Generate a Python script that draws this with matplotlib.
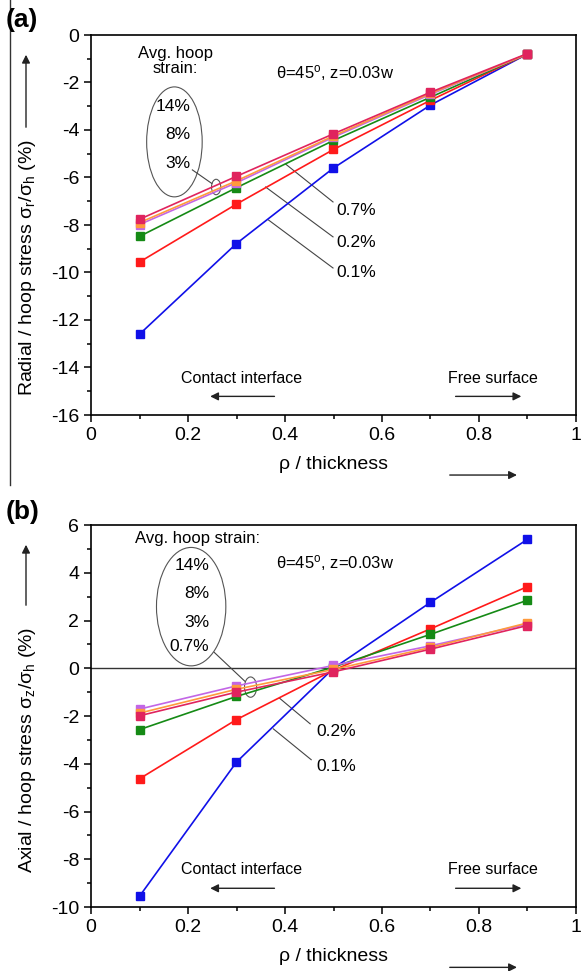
import matplotlib.pyplot as plt
from matplotlib.patches import Ellipse
from matplotlib.lines import Line2D
from matplotlib.ticker import MultipleLocator

plt.rcParams['font.family'] = ['Liberation Sans', 'DejaVu Sans']
plt.rcParams['mathtext.fontset'] = 'custom'
plt.rcParams['mathtext.rm'] = 'Liberation Sans'
plt.rcParams['mathtext.it'] = 'Liberation Sans'
plt.rcParams['axes.unicode_minus'] = False

# rho / thickness positions
rho = [0.1, 0.3, 0.5, 0.7, 0.9]
strains = ['0.1%', '0.2%', '0.7%', '3%', '8%', '14%']
colors = ['#1010e8', '#ff1a1a', '#158a15', '#c266e6', '#ff9a3c', '#e0245e']

# (a) radial / hoop stress
radial = {
    '0.1%': [-12.6, -8.78, -5.6, -2.95, -0.8],
    '0.2%': [-9.56, -7.12, -4.82, -2.75, -0.8],
    '0.7%': [-8.48, -6.43, -4.44, -2.62, -0.8],
    '3%':   [-7.98, -6.22, -4.3, -2.5, -0.8],
    '8%':   [-7.9, -6.14, -4.25, -2.46, -0.8],
    '14%':  [-7.76, -5.95, -4.16, -2.41, -0.78],
}

# (b) axial / hoop stress
axial = {
    '0.1%': [-9.55, -3.93, 0.0, 2.76, 5.4],
    '0.2%': [-4.63, -2.15, -0.08, 1.65, 3.42],
    '0.7%': [-2.57, -1.18, 0.05, 1.42, 2.85],
    '3%':   [-1.71, -0.74, 0.12, 0.94, 1.85],
    '8%':   [-1.88, -0.88, -0.05, 0.87, 1.9],
    '14%':  [-1.99, -1.0, -0.15, 0.8, 1.79],
}

W, H = 583, 971
fig = plt.figure(figsize=(W / 100, H / 100), dpi=100)


def fpx(x, y):
    # figure pixels (from top-left) -> figure fraction
    return x / W, 1 - y / H


ax1 = fig.add_axes([91 / W, 1 - 415 / H, 485 / W, 380 / H])
ax2 = fig.add_axes([91 / W, 1 - 907 / H, 485 / W, 382 / H])

leader = dict(color='#444444', lw=0.8)
arrow = dict(arrowstyle='-|>', color='#222222', lw=1.0, mutation_scale=12)


def setup(ax, data, ylo, yhi):
    for s, c in zip(strains, colors):
        ax.plot(rho, data[s], color=c, lw=1.2, marker='s', ms=5.5,
                mec=c, mfc=c, zorder=3)
    ax.set_xlim(0, 1)
    ax.set_ylim(ylo, yhi)
    ax.xaxis.set_major_locator(MultipleLocator(0.2))
    ax.xaxis.set_minor_locator(MultipleLocator(0.1))
    ax.yaxis.set_major_locator(MultipleLocator(2))
    ax.yaxis.set_minor_locator(MultipleLocator(1))
    ax.tick_params(which='both', direction='out', labelsize=14, width=1.1,
                   top=False, right=False)
    ax.tick_params(which='major', length=5)
    ax.tick_params(which='minor', length=3)
    ax.xaxis.set_major_formatter(lambda v, p: f'{v:g}')
    for sp in ax.spines.values():
        sp.set_linewidth(1.2)
    ax.set_xlabel('ρ / thickness', fontsize=14, labelpad=9)
    ax.annotate('', xy=(0.884, -0.158), xytext=(0.734, -0.158),
                xycoords='axes fraction', arrowprops=arrow, annotation_clip=False)
    # contact / free surface
    ax.text(0.31, 0.097, 'Contact interface', transform=ax.transAxes,
            fontsize=11.5, ha='center', va='center')
    ax.annotate('', xy=(0.24, 0.049), xytext=(0.384, 0.049),
                xycoords='axes fraction', arrowprops=arrow)
    ax.text(0.828, 0.097, 'Free surface', transform=ax.transAxes,
            fontsize=11.5, ha='center', va='center')
    ax.annotate('', xy=(0.893, 0.049), xytext=(0.746, 0.049),
                xycoords='axes fraction', arrowprops=arrow)
    ax.text(0.503, 0.9, r'$\theta$=45$^{\rm o}$, z=0.03w', transform=ax.transAxes,
            fontsize=12, ha='center', va='center')


# ---- panel (a)
setup(ax1, radial, -16, 0)
ax1.text(0.174, -1.09, 'Avg. hoop\nstrain:', fontsize=12, ha='center',
         va='center', linespacing=1.05)
ax1.add_patch(Ellipse((0.172, -4.5), 0.1145, 4.63, fill=False, ec='#555555', lw=0.8))
for lab, yy in [('14%', -3.03), ('8%', -4.17), ('3%', -5.43)]:
    ax1.text(0.205, yy, lab, fontsize=12.5, ha='right', va='center')
ax1.add_patch(Ellipse((0.258, -6.4), 0.019, 0.65, fill=False, ec='#555555', lw=0.8))
ax1.plot([0.209, 0.249], [-5.68, -6.25], **leader)
for lab, yy, p0, p1 in [('0.7%', -7.37, (0.401, -5.43), (0.499, -7.03)),
                        ('0.2%', -8.72, (0.36, -6.4), (0.499, -8.5)),
                        ('0.1%', -9.98, (0.366, -7.79), (0.499, -9.81))]:
    ax1.plot([p0[0], p1[0]], [p0[1], p1[1]], **leader)
    ax1.text(0.505, yy, lab, fontsize=12.5, ha='left', va='center')

# ---- panel (b)
setup(ax2, axial, -10, 6)
ax2.axhline(0, color='#333333', lw=1.0, zorder=1)
ax2.text(0.219, 5.42, 'Avg. hoop strain:', fontsize=12, ha='center', va='center')
ax2.add_patch(Ellipse((0.2065, 2.58), 0.143, 4.96, fill=False, ec='#555555', lw=0.8))
for lab, yy in [('14%', 4.29), ('8%', 3.125), ('3%', 1.92), ('0.7%', 0.92)]:
    ax2.text(0.244, yy, lab, fontsize=12.5, ha='right', va='center')
ax2.add_patch(Ellipse((0.329, -0.79), 0.025, 0.85, fill=False, ec='#555555', lw=0.8))
ax2.plot([0.254, 0.317], [0.667, -0.54], **leader)
for lab, yy, p0, p1 in [('0.2%', -2.67, (0.3885, -1.25), (0.452, -2.33)),
                        ('0.1%', -4.125, (0.376, -2.54), (0.454, -3.83))]:
    ax2.plot([p0[0], p1[0]], [p0[1], p1[1]], **leader)
    ax2.text(0.464, yy, lab, fontsize=12.5, ha='left', va='center')

# y labels with arrows
fig.text(*fpx(28, 268), r'Radial / hoop stress $\sigma_r/\sigma_h$ (%)',
         rotation=90, fontsize=14, ha='center', va='center')
fig.text(*fpx(28, 750), r'Axial / hoop stress $\sigma_z/\sigma_h$ (%)',
         rotation=90, fontsize=14, ha='center', va='center')
fig.add_artist(plt.Annotation('', xy=fpx(26, 52), xytext=fpx(26, 130),
                              xycoords='figure fraction', arrowprops=arrow))
fig.add_artist(plt.Annotation('', xy=fpx(26, 542), xytext=fpx(26, 608),
                              xycoords='figure fraction', arrowprops=arrow))

# panel letters and left frame line
fig.text(*fpx(6, 20), '(a)', fontsize=19, fontweight='bold', ha='left', va='center')
fig.text(*fpx(6, 512), '(b)', fontsize=19, fontweight='bold', ha='left', va='center')
fig.add_artist(Line2D([10 / W, 10 / W], [1, 1 - 485 / H], color='#333333', lw=1.0))

fig.savefig('out.png', dpi=100)
